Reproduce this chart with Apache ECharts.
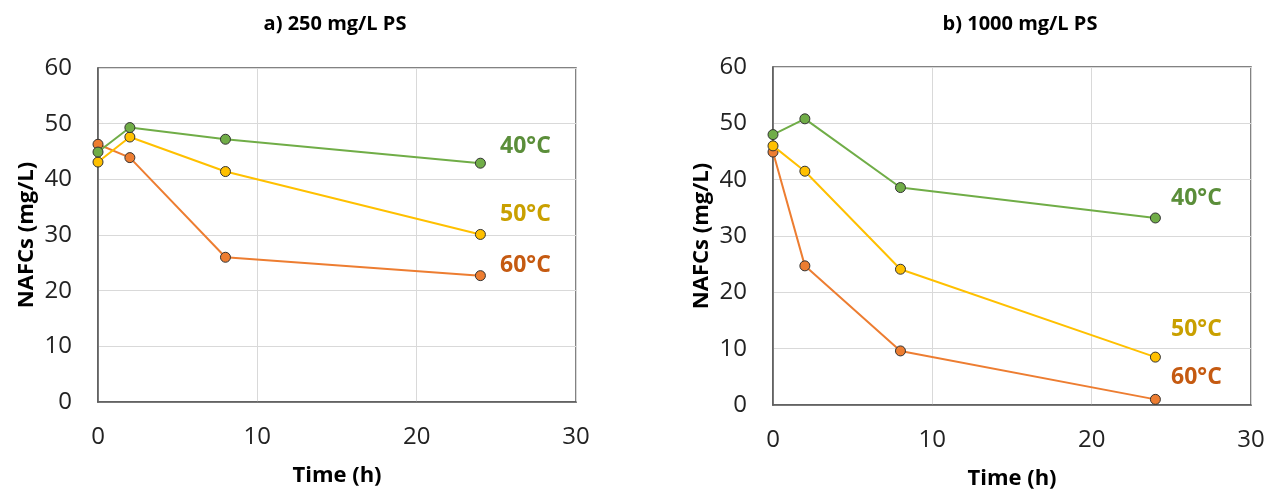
<!DOCTYPE html>
<html>
<head>
<meta charset="utf-8">
<script src="https://cdn.jsdelivr.net/npm/echarts@6/dist/echarts.min.js"></script>
<style>
  html, body { margin: 0; padding: 0; background: #fff; }
  #chart { width: 1277px; height: 496px; }
</style>
</head>
<body>
<div id="chart"></div>
<script>
// time points (h)
var times = [0, 2, 8, 24];
var tempNames = ['40°C', '50°C', '60°C'];

// a) 250 mg/L PS
var a40 = [44.9, 49.3, 47.2, 42.9];
var a50 = [43.1, 47.6, 41.4, 30.1];
var a60 = [46.3, 43.9, 26.0, 22.7];

// b) 1000 mg/L PS
var b40 = [48.0, 50.8, 38.6, 33.2];
var b50 = [46.0, 41.5, 24.1, 8.5];
var b60 = [44.9, 24.7, 9.6, 1.0];

var xTicks = [0, 10, 20, 30];
var yTicks = [0, 10, 20, 30, 40, 50, 60];

var lineColors = ['#70AD47', '#FFC000', '#ED7D31'];
var textColors = ['#5B8E3A', '#C9A000', '#C55A11'];
var fontFam = '"Open Sans", "Noto Sans", sans-serif';

// end-label offsets relative to the last point
var labelOffA = [[45, -17], [45, -20], [45, -10]];
var labelOffB = [[41, -20], [41, -28], [41, -22]];

function makeSeries(vals, idx, gi, off) {
  var data = [];
  for (var i = 0; i < times.length; i++) {
    var item = { value: [times[i], vals[i]] };
    if (i === times.length - 1) {
      item.label = {
        show: true,
        position: 'inside',
        offset: off,
        formatter: tempNames[idx],
        color: textColors[idx],
        fontSize: 23,
        fontWeight: 'bold',
        fontFamily: fontFam
      };
    }
    data.push(item);
  }
  return {
    name: tempNames[idx],
    type: 'line',
    xAxisIndex: gi,
    yAxisIndex: gi,
    data: data,
    symbol: 'circle',
    symbolSize: 10,
    lineStyle: { color: lineColors[idx], width: 2 },
    itemStyle: { color: lineColors[idx], borderColor: '#333', borderWidth: 1 },
    label: { show: false },
    z: 3 - idx + 2
  };
}

function xAxis(gi) {
  return {
    gridIndex: gi,
    type: 'value',
    min: xTicks[0],
    max: xTicks[xTicks.length - 1],
    interval: 10,
    name: 'Time (h)',
    nameLocation: 'middle',
    nameGap: 63,
    nameTextStyle: { fontSize: 22, fontWeight: 'bold', color: '#000', fontFamily: fontFam },
    axisLine: { show: true, onZero: false, lineStyle: { color: '#595959', width: 1.5 } },
    axisTick: { show: false },
    axisLabel: { margin: 23, fontSize: 24, color: '#222', fontFamily: fontFam },
    splitLine: { show: true, lineStyle: { color: '#D9D9D9', width: 1 } }
  };
}

function yAxis(gi) {
  return {
    gridIndex: gi,
    type: 'value',
    min: yTicks[0],
    max: yTicks[yTicks.length - 1],
    interval: 10,
    name: 'NAFCs (mg/L)',
    nameLocation: 'middle',
    nameGap: 60,
    nameTextStyle: { fontSize: 22, fontWeight: 'bold', color: '#000', fontFamily: fontFam },
    axisLine: { show: true, lineStyle: { color: '#595959', width: 1.5 } },
    axisTick: { show: false },
    axisLabel: { margin: 26, fontSize: 24, color: '#222', fontFamily: fontFam },
    splitLine: { show: true, lineStyle: { color: '#D9D9D9', width: 1 } }
  };
}

var chart = echarts.init(document.getElementById('chart'));
var option = {
  animation: false,
  backgroundColor: '#fff',
  title: [
    { text: 'a) 250 mg/L PS', left: 330, top: 9, textAlign: 'center',
      textStyle: { fontSize: 20, fontWeight: 'bold', color: '#000', fontFamily: fontFam } },
    { text: 'b) 1000 mg/L PS', left: 1015, top: 9, textAlign: 'center',
      textStyle: { fontSize: 20, fontWeight: 'bold', color: '#000', fontFamily: fontFam } }
  ],
  grid: [
    { left: 98, top: 68, width: 478, height: 334, show: true, borderColor: '#595959', borderWidth: 1.5 },
    { left: 773, top: 67, width: 478, height: 338, show: true, borderColor: '#595959', borderWidth: 1.5 }
  ],
  xAxis: [xAxis(0), xAxis(1)],
  yAxis: [yAxis(0), yAxis(1)],
  series: [
    makeSeries(a40, 0, 0, labelOffA[0]),
    makeSeries(a50, 1, 0, labelOffA[1]),
    makeSeries(a60, 2, 0, labelOffA[2]),
    makeSeries(b40, 0, 1, labelOffB[0]),
    makeSeries(b50, 1, 1, labelOffB[1]),
    makeSeries(b60, 2, 1, labelOffB[2])
  ]
};
chart.setOption(option);
</script>
</body>
</html>
